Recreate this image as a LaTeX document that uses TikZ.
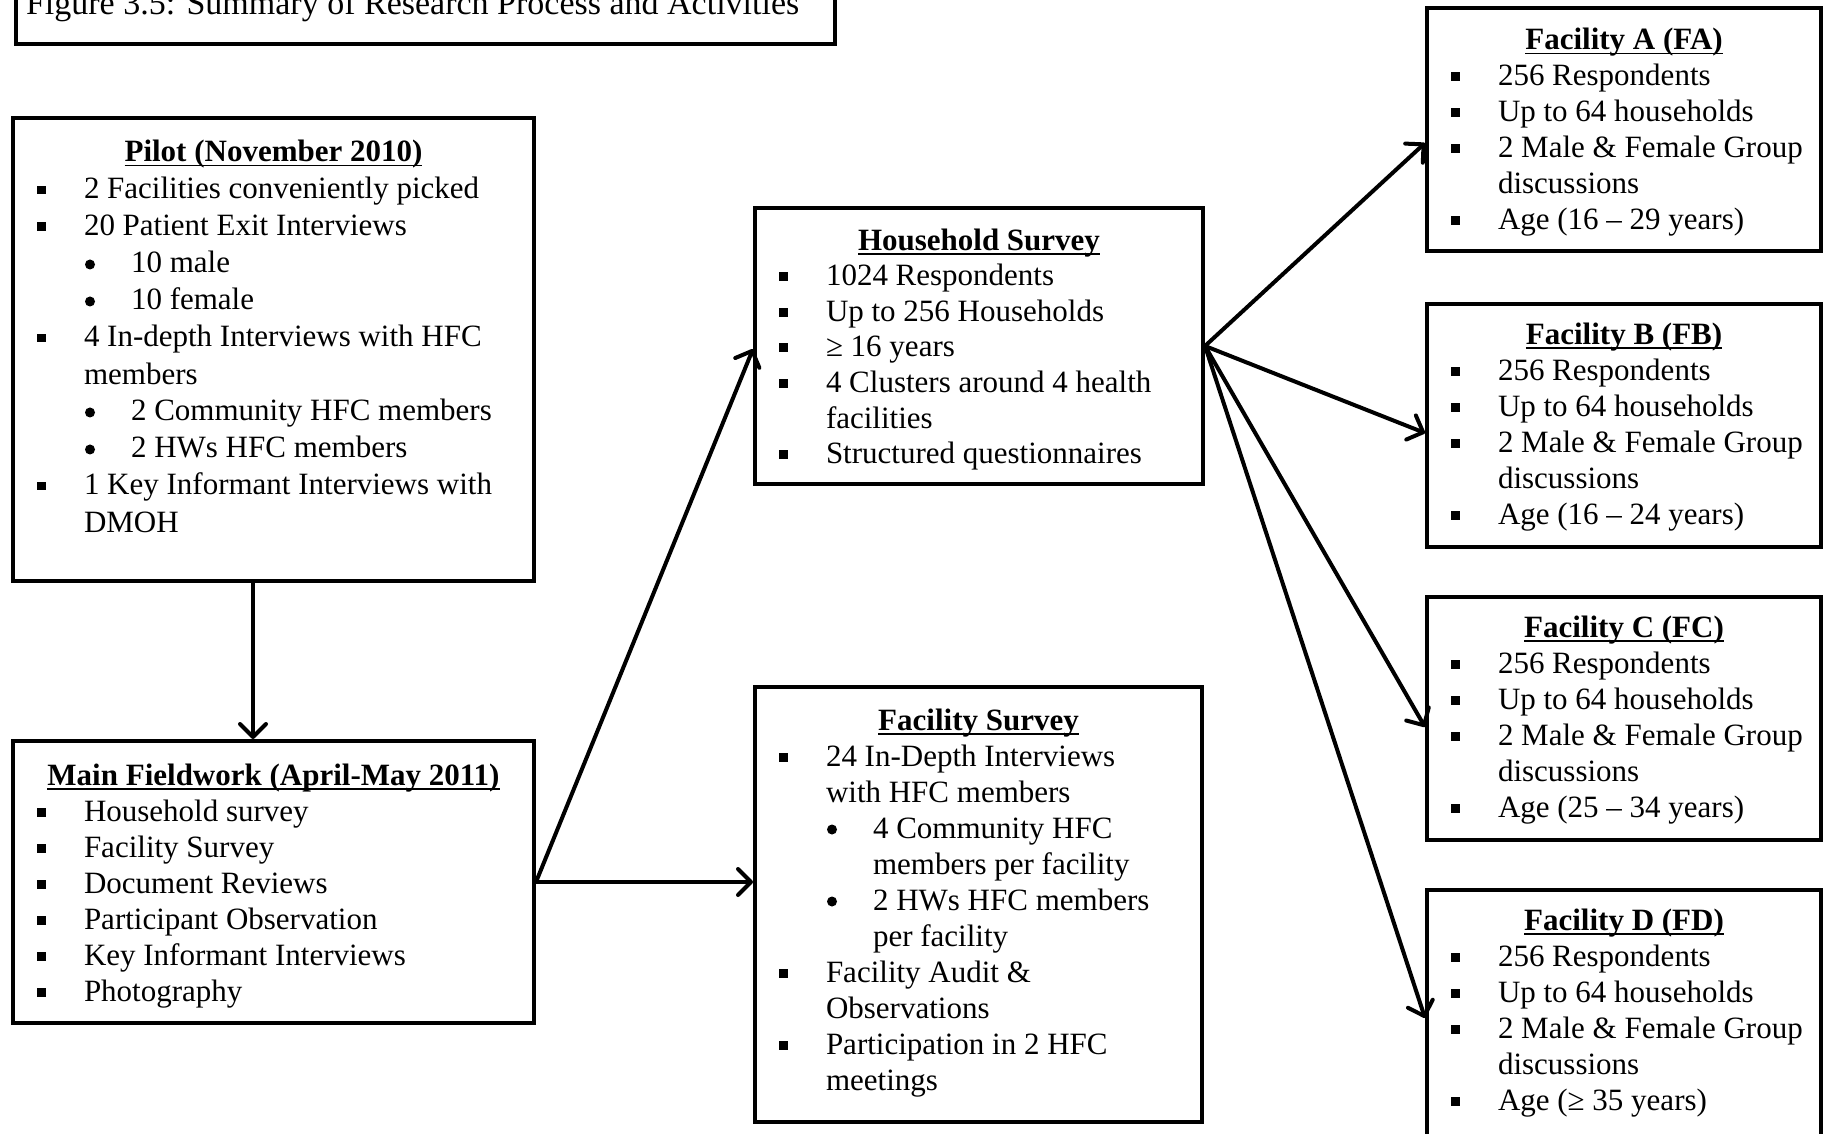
\documentclass[tikz,border=0pt]{standalone}
\usepackage{fontspec}
\setmainfont{Liberation Serif}
\usetikzlibrary{arrows.meta,calc}
\newcommand\ulx[1]{\setbox0\hbox{#1}\rlap{\rule[-4.5pt]{\wd0}{1.8pt}}\box0}
\newcommand\rtitle[1]{\noindent\makebox[\linewidth]{\bfseries\ulx{#1}}}
\newcommand\sqi[1]{\par\noindent\makebox[71pt][l]{\hspace*{24pt}\rule[4.5pt]{9pt}{9pt}}#1}
\newcommand\sqc[1]{\par\noindent\hspace*{71pt}#1}
\newcommand\dti[1]{\par\noindent\makebox[118pt][l]{\hspace*{72pt}\tikz[baseline=0pt]\fill (5pt,8.5pt) circle[radius=5pt];}#1}
\newcommand\dtc[1]{\par\noindent\hspace*{118pt}#1}
\newcommand\content[3]{\parbox[t]{#1}{\fontsize{31}{#2}\selectfont\parskip=0pt #3}}
\tikzset{
  box/.style={draw, line width=4pt, inner sep=0pt},
  txt/.style={anchor=base west, inner sep=0pt, outer sep=0pt},
  conn/.style={line width=4pt, line cap=round, -{Straight Barb[length=13pt,width=26pt,round]}}
}
\begin{document}
\begin{tikzpicture}[x=1pt,y=-1pt]
\useasboundingbox (0,0) rectangle (1825,1134);
% boxes
\node[box, minimum width=819pt, minimum height=124pt] (title) at (425.5,-18) {};
\node[box, minimum width=521pt, minimum height=463pt] (pilot) at (273.5,349.5) {};
\node[box, minimum width=521pt, minimum height=282pt] (main) at (273.5,882) {};
\node[box, minimum width=448pt, minimum height=276pt] (hh) at (979,346) {};
\node[box, minimum width=447pt, minimum height=435pt] (fs) at (978.5,904.5) {};
\node[box, minimum width=394pt, minimum height=243pt] (fa) at (1624,129.5) {};
\node[box, minimum width=394pt, minimum height=243pt] (fb) at (1624,425.5) {};
\node[box, minimum width=394pt, minimum height=243pt] (fc) at (1624,718.5) {};
\node[box, minimum width=394pt, minimum height=260pt] (fd) at (1624,1020) {};
% texts
\node[txt] (titleT) at (26,15) {\fontsize{34}{40}\selectfont Figure 3.5: Summary of Research Process and Activities};
\node[txt] (pilotT) at (13,162) {\content{521pt}{37}{%
  \rtitle{Pilot (November 2010)}%
  \sqi{2 Facilities conveniently picked}%
  \sqi{20 Patient Exit Interviews}%
  \dti{10 male}%
  \dti{10 female}%
  \sqi{4 In-depth Interviews with HFC}%
  \sqc{members}%
  \dti{2 Community HFC members}%
  \dti{2 HWs HFC members}%
  \sqi{1 Key Informant Interviews with}%
  \sqc{DMOH}}};
\node[txt] (mainT) at (13,785) {\content{521pt}{36}{%
  \rtitle{Main Fieldwork (April-May 2011)}%
  \sqi{Household survey}%
  \sqi{Facility Survey}%
  \sqi{Document Reviews}%
  \sqi{Participant Observation}%
  \sqi{Key Informant Interviews}%
  \sqi{Photography}}};
\node[txt] (hhT) at (755,250) {\content{448pt}{35.6}{%
  \rtitle{Household Survey}%
  \sqi{1024 Respondents}%
  \sqi{Up to 256 Households}%
  \sqi{≥ 16 years}%
  \sqi{4 Clusters around 4 health}%
  \sqc{facilities}%
  \sqi{Structured questionnaires}}};
\node[txt] (fsT) at (755,730) {\content{447pt}{36}{%
  \rtitle{Facility Survey}%
  \sqi{24 In-Depth Interviews}%
  \sqc{with HFC members}%
  \dti{4 Community HFC}%
  \dtc{members per facility}%
  \dti{2 HWs HFC members}%
  \dtc{per facility}%
  \sqi{Facility Audit \&}%
  \sqc{Observations}%
  \sqi{Participation in 2 HFC}%
  \sqc{meetings}}};
\node[txt] (faT) at (1427,50) {\content{394pt}{36}{%
  \rtitle{Facility A (FA)}%
  \sqi{256 Respondents}%
  \sqi{Up to 64 households}%
  \sqi{2 Male \& Female Group}%
  \sqc{discussions}%
  \sqi{Age (16 – 29 years)}}};
\node[txt] (fbT) at (1427,344) {\content{394pt}{36}{%
  \rtitle{Facility B (FB)}%
  \sqi{256 Respondents}%
  \sqi{Up to 64 households}%
  \sqi{2 Male \& Female Group}%
  \sqc{discussions}%
  \sqi{Age (16 – 24 years)}}};
\node[txt] (fcT) at (1427,637) {\content{394pt}{36}{%
  \rtitle{Facility C (FC)}%
  \sqi{256 Respondents}%
  \sqi{Up to 64 households}%
  \sqi{2 Male \& Female Group}%
  \sqc{discussions}%
  \sqi{Age (25 – 34 years)}}};
\node[txt] (fdT) at (1427,930) {\content{394pt}{36}{%
  \rtitle{Facility D (FD)}%
  \sqi{256 Respondents}%
  \sqi{Up to 64 households}%
  \sqi{2 Male \& Female Group}%
  \sqc{discussions}%
  \sqi{Age (≥ 35 years)}}};
% connectors
\draw[conn] ($(pilot.south)+(-20.5,0)$) -- ($(main.north)+(-20.5,0)$);
\draw[conn] (main.east) -- ($(hh.west)+(0,3)$);
\draw[conn] (main.east) -- (main.east -| fs.west);
\draw[conn] (hh.east) -- ($(fa.west)+(0,13.5)$);
\draw[conn] (hh.east) -- ($(fb.west)+(0,7.5)$);
\draw[conn] (hh.east) -- ($(fc.west)+(0,8.5)$);
\draw[conn] (hh.east) -- ($(fd.west)+(0,-2)$);
\end{tikzpicture}
\end{document}
